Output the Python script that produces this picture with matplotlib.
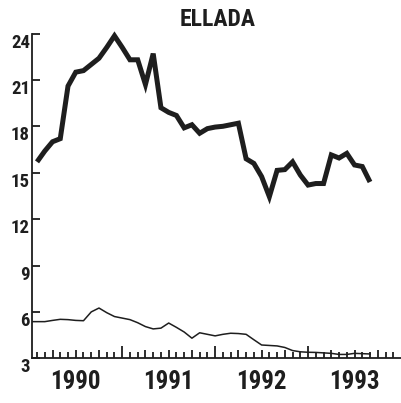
import matplotlib
matplotlib.use("Agg")
import matplotlib.pyplot as plt
from matplotlib.ticker import FixedLocator

# Data (months since start of Jan 1990)
thick_months = list(range(1, 45))
thick_values = [15.7, 16.4, 17.0, 17.2, 20.6, 21.5, 21.6, 22.0, 22.4, 23.1,
                23.85, 23.1, 22.3, 22.3, 20.7, 22.7, 19.2, 18.9, 18.7, 17.9,
                18.1, 17.55, 17.85, 17.95, 18.0, 18.1, 18.2, 15.9, 15.6, 14.75,
                13.45, 15.15, 15.2, 15.7, 14.85, 14.2, 14.3, 14.3, 16.15, 15.95,
                16.25, 15.5, 15.4, 14.4]
thin_months = list(range(0, 45))
thin_values = [5.37, 5.37, 5.37, 5.45, 5.52, 5.5, 5.45, 5.43, 6.0, 6.25,
               5.95, 5.7, 5.6, 5.5, 5.3, 5.05, 4.9, 4.95, 5.28, 5.0,
               4.7, 4.3, 4.65, 4.55, 4.45, 4.55, 4.62, 4.6, 4.55, 4.2,
               3.86, 3.83, 3.8, 3.7, 3.5, 3.42, 3.39, 3.38, 3.35, 3.32,
               3.25, 3.25, 3.32, 3.3, 3.28]
year_labels = ["1990", "1991", "1992", "1993"]
y_ticks = [3, 6, 9, 12, 15, 18, 21, 24]
title = "ELLADA"

FONT = ["Roboto Condensed", "Liberation Sans Narrow", "Liberation Sans", "DejaVu Sans"]
INK = "#1e1e1e"

fig = plt.figure(figsize=(4.02, 4.03), dpi=100)
L, R = 32 / 402, 401 / 402
B, T = (403 - 358.3) / 403, (403 - 33.5) / 403
ax = fig.add_axes([L, B, R - L, T - B])

ax.plot(thick_months, thick_values, color=INK, lw=3.6, solid_joinstyle="miter",
        solid_capstyle="butt", clip_on=False)
ax.plot(thin_months, thin_values, color=INK, lw=1.1)

ax.set_xlim(0.35, 48)
ax.set_ylim(3, 24)
for s in ["top", "right"]:
    ax.spines[s].set_visible(False)
for s in ["left", "bottom"]:
    ax.spines[s].set_color(INK)
    ax.spines[s].set_linewidth(1.3)

ax.set_yticks(y_ticks)
ax.set_yticklabels([str(v) for v in y_ticks], fontfamily=FONT,
                   fontweight="heavy", fontsize=13.5, color=INK)
for lab in ax.get_yticklabels():
    lab.set_va("top")
ax.tick_params(axis="y", direction="in", length=5.5, width=1.3, color=INK, pad=1.5)

# x ticks: monthly minor, quarterly medium, yearly major
month_ticks = [m for m in range(1, 48) if m % 3 != 0]
quarter_ticks = [m for m in range(3, 48, 3) if m % 12 != 0]
year_ticks = [12, 24, 36]
ax.xaxis.set_major_locator(FixedLocator(year_ticks))
ax.xaxis.set_minor_locator(FixedLocator(month_ticks))
ax.tick_params(axis="x", which="major", direction="in", length=9, width=1.3,
               color=INK, labelbottom=False)
ax.tick_params(axis="x", which="minor", direction="in", length=4.5, width=1.3,
               color=INK)
for q in quarter_ticks:
    ax.plot([q, q], [0, 8.5 / 324.8], transform=ax.get_xaxis_transform(),
            color=INK, lw=1.3, clip_on=False, solid_capstyle="butt")

for i, lab in enumerate(year_labels):
    ax.text(6 + 12 * i, -0.073, lab, transform=ax.get_xaxis_transform(),
            ha="center", va="center", fontfamily=FONT, fontweight="heavy",
            fontsize=18, color=INK)

fig.text(218 / 402, 1 - 20 / 403, title, ha="center", va="center",
         fontfamily=FONT, fontweight="heavy", fontsize=17, color=INK)

fig.savefig("out.png", dpi=100, facecolor="white")
